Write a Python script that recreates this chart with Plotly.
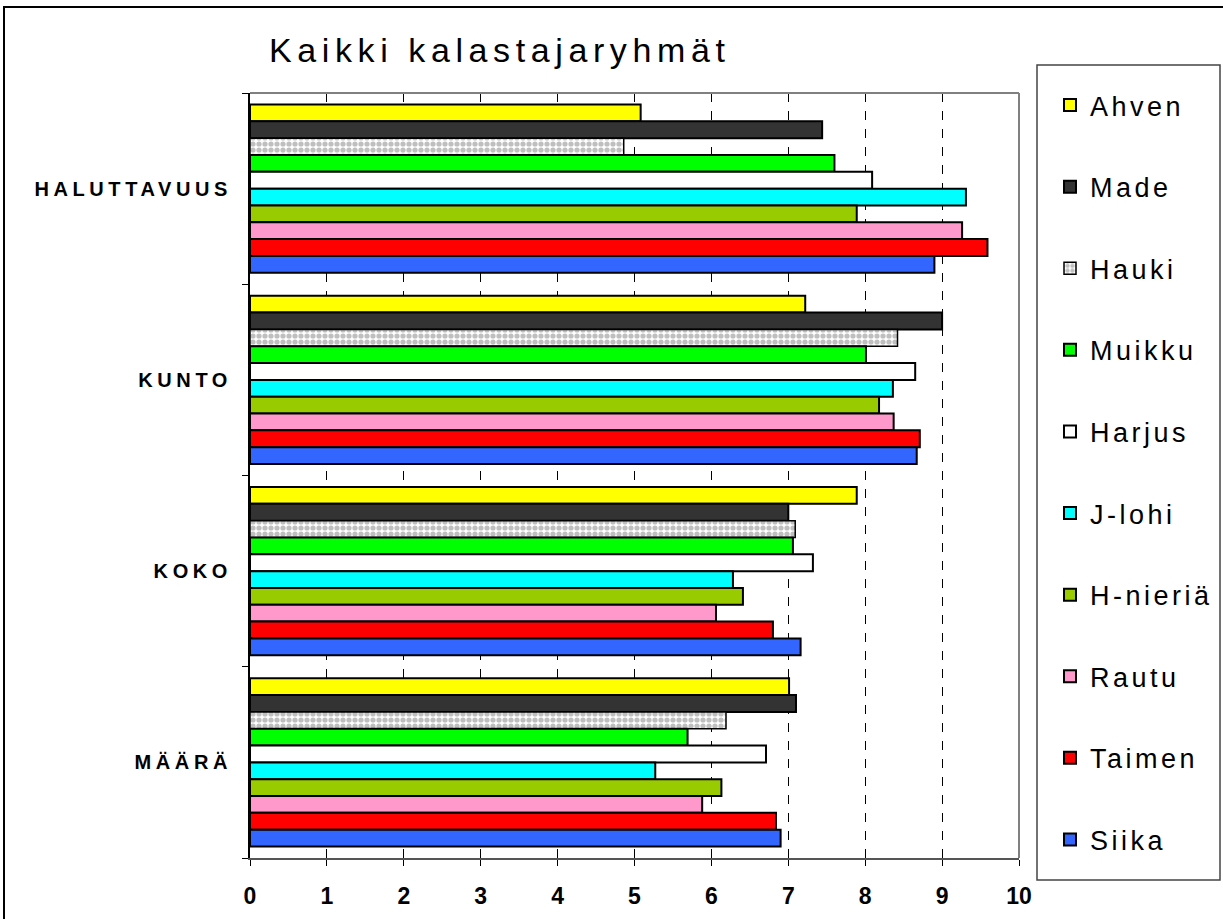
import plotly.graph_objects as go

# Categories, top to bottom as shown
categories = ['HALUTTAVUUS', 'KUNTO', 'KOKO', 'MÄÄRÄ']

# Series in legend order (top to bottom)
species = ['Ahven', 'Made', 'Hauki', 'Muikku', 'Harjus',
           'J-lohi', 'H-nieriä', 'Rautu', 'Taimen', 'Siika']

# Values per species, in category order
ahven = [5.08, 7.22, 7.89, 7.01]
made = [7.44, 9.00, 7.00, 7.10]
hauki = [4.86, 8.42, 7.09, 6.19]
muikku = [7.60, 8.01, 7.06, 5.69]
harjus = [8.09, 8.65, 7.32, 6.71]
jlohi = [9.31, 8.36, 6.28, 5.27]
hnieria = [7.89, 8.18, 6.41, 6.13]
rautu = [9.26, 8.37, 6.06, 5.88]
taimen = [9.59, 8.71, 6.80, 6.84]
siika = [8.90, 8.67, 7.16, 6.90]

values = [ahven, made, hauki, muikku, harjus, jlohi, hnieria, rautu, taimen, siika]

colors = ['#FFFF00', '#333333', '#FFFFFF', '#00FF00', '#FFFFFF',
          '#00FFFF', '#99CC00', '#FF99CC', '#FF0000', '#3366FF']


def spaced(text, px):
    # letter-spaced text, like the original metafile rendering
    return f'<span style="letter-spacing:{px}px">{text}</span>'


fig = go.Figure()

for name, vals, col in zip(species, values, colors):
    marker = dict(color=col, line=dict(color='black', width=2))
    if name == 'Hauki':
        marker['pattern'] = dict(shape='.', fgcolor='#808080', bgcolor='white',
                                 size=6, solidity=0.6)
        marker['line'] = dict(color='black', width=1.5)
    fig.add_trace(go.Bar(
        name=spaced(name, 3.5),
        y=categories,
        x=vals,
        orientation='h',
        marker=marker,
        legendgroup=name,
        hovertemplate=name + ': %{x}<extra>%{y}</extra>',
    ))

L, R, T, B = 250, 1019, 93, 858
W, H = 1223, 919


def px_x(px):
    return (px - L) / (R - L)


def px_y(py):
    return (B - py) / (B - T)


fig.update_layout(
    width=W,
    height=H,
    margin=dict(l=L, r=W - R, t=T, b=H - B, autoexpand=False),
    barmode='group',
    bargap=0.12,
    bargroupgap=0,
    plot_bgcolor='white',
    paper_bgcolor='white',
    font=dict(family='Liberation Sans, Arial', color='black'),
    title=dict(
        text=spaced('Kaikki kalastajaryhmät', 5.6),
        font=dict(size=34, color='black'),
        x=px_x(269), xref='paper', xanchor='left',
        y=1 - 50 / H, yref='container', yanchor='middle',
    ),
    xaxis=dict(
        range=[0, 10],
        dtick=1,
        showgrid=True,
        gridcolor='black',
        gridwidth=1,
        griddash='dash',
        zeroline=False,
        showline=True,
        linecolor='#555555',
        linewidth=2,
        ticks='outside',
        ticklen=6,
        tickcolor='black',
        ticklabelstandoff=10,
        tickfont=dict(size=23, weight='bold'),
        fixedrange=True,
    ),
    yaxis=dict(
        autorange='reversed',
        tickmode='array',
        tickvals=categories,
        ticktext=[spaced(c, 4.6) for c in categories],
        showline=True,
        linecolor='black',
        linewidth=2,
        ticks='outside',
        ticklen=6,
        tickcolor='black',
        tickson='boundaries',
        ticklabelstandoff=12,
        tickfont=dict(size=20, weight='bold'),
        showgrid=False,
        fixedrange=True,
    ),
    showlegend=True,
    legend=dict(
        x=px_x(1050), y=px_y(81), xanchor='left', yanchor='top',
        traceorder='grouped',
        tracegroupgap=43.5,
        maxheight=1,
        font=dict(size=27, color='black'),
        bgcolor='rgba(0,0,0,0)',
        borderwidth=0,
    ),
    shapes=[
        # plot area border (top and right)
        dict(type='line', xref='paper', yref='paper', x0=0, x1=1, y0=1, y1=1,
             line=dict(color='#808080', width=2), layer='above'),
        dict(type='line', xref='paper', yref='paper', x0=1, x1=1, y0=0, y1=1,
             line=dict(color='#808080', width=2), layer='above'),
        # legend box
        dict(type='rect', xref='paper', yref='paper',
             x0=px_x(1037), x1=px_x(1220), y0=px_y(880), y1=px_y(65),
             line=dict(color='#444444', width=1.5)),
        # outer chart border
        dict(type='rect', xref='paper', yref='paper',
             x0=px_x(4), x1=px_x(1240), y0=px_y(940), y1=px_y(7),
             line=dict(color='black', width=2)),
    ],
)

fig.write_html('out.html', config={'displayModeBar': False},
               post_script="document.body.style.margin='0';")
